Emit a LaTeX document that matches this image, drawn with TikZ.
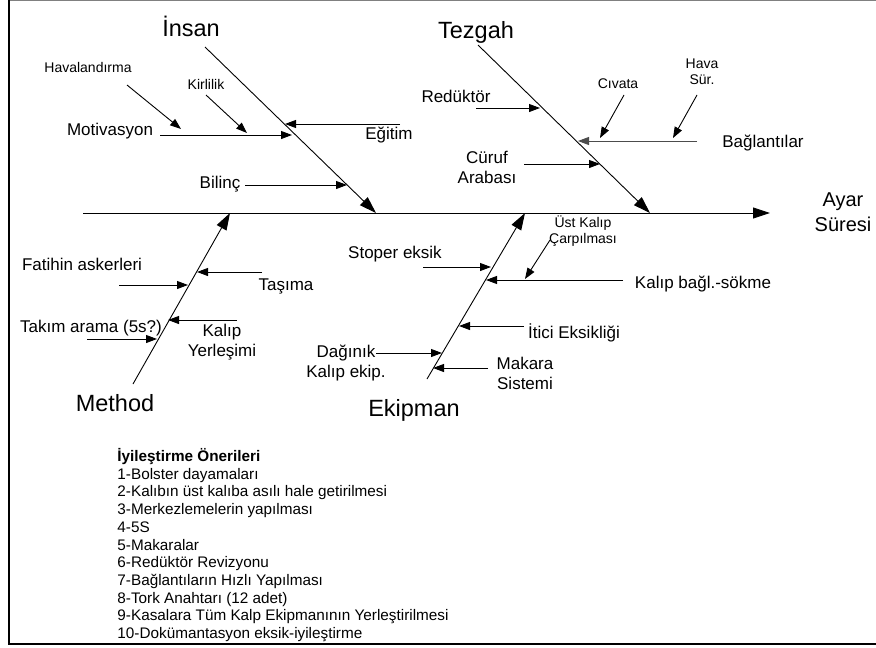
\documentclass[tikz,border=0pt]{standalone}
\usepackage{fontspec}
\setmainfont{Liberation Sans}
\usetikzlibrary{positioning,arrows.meta}

\begin{document}
\begin{tikzpicture}[x=1pt, y=-1pt, line width=0.9pt,
		head/.style={font=\fontsize{23.5}{28}\selectfont},
		lbl/.style={font=\fontsize{17}{20}\selectfont, align=center},
		sml/.style={font=\fontsize{14}{16}\selectfont, align=center},
		spine/.style={-{Triangle[length=17pt,width=11pt]}},
		bone/.style={-{Triangle[length=17pt,width=11pt]}},
		cause/.style={-{Triangle[length=11pt,width=8pt]}}]
	\useasboundingbox (0,0) rectangle (876,648);
	\draw[gray, line width=1pt] (9,0.5) -- (876,0.5);
	\draw[line width=1.5pt] (9,0) -- (9,644) -- (876,644);

	% spine and main bones
	\coordinate (spineS) at (83,213);
	\coordinate (spineE) at (770,213);
	\node[head, align=center, font=\fontsize{20}{25}\selectfont] (ayar) at (843,212) {Ayar\\Süresi};
	\draw[spine] (spineS) -- (spineE);

	\node[head] (insan) at (191,26) {İnsan};
	\node[head] (tezgah) at (476,32) {Tezgah};
	\node[head] (method) at (115,403) {Method};
	\node[head] (ekipman) at (414,410) {Ekipman};
	\coordinate (insanS) at (205,47);
	\coordinate (insanE) at (376,213);
	\coordinate (tezgahS) at (478,45);
	\coordinate (tezgahE) at (650,213);
	\coordinate (methodS) at (133,384);
	\coordinate (methodE) at (230,213);
	\coordinate (ekipS) at (427,379);
	\coordinate (ekipE) at (525,213);
	\draw[bone] (insanS) -- (insanE);
	\draw[bone] (tezgahS) -- (tezgahE);
	\draw[bone] (methodS) -- (methodE);
	\draw[bone] (ekipS) -- (ekipE);

	% İnsan
	\node[lbl] (motiv) at (110,131) {Motivasyon};
	\node[lbl] (egitim) at (389,135) {Eğitim};
	\node[sml] (haval) at (88,67) {Havalandırma};
	\node[sml] (kirli) at (206,84) {Kirlilik};
	\node[lbl] (bilinc) at (220,184) {Bilinç};
	\coordinate (motivS) at (160,135);
	\coordinate (motivE) at (292,135);
	\coordinate (egitimS) at (400,124);
	\coordinate (egitimE) at (285,124);
	\coordinate (havalS) at (127,85);
	\coordinate (havalE) at (181,129);
	\coordinate (kirliS) at (206,95);
	\coordinate (kirliE) at (247,133);
	\coordinate (bilincS) at (245,185);
	\coordinate (bilincE) at (347,185);
	\draw[cause] (motivS) -- (motivE);
	\draw[cause] (egitimS) -- (egitimE);
	\draw[cause] (havalS) -- (havalE);
	\draw[cause] (kirliS) -- (kirliE);
	\draw[cause] (bilincS) -- (bilincE);

	% Tezgah
	\node[lbl] (redukt) at (456,96) {Redüktör};
	\node[sml] (civata) at (618,84) {Cıvata};
	\node[sml] (havasur) at (702,72) {Hava\\Sür.};
	\node[lbl] (baglan) at (763,143) {Bağlantılar};
	\node[lbl] (curuf) at (487,167) {Cüruf\\Arabası};
	\coordinate (reduktS) at (476,108);
	\coordinate (reduktE) at (540,108);
	\coordinate (baglanS) at (697,141);
	\coordinate (baglanE) at (578,141);
	\coordinate (civataS) at (624,95);
	\coordinate (civataE) at (600,138);
	\coordinate (havasurS) at (697,95);
	\coordinate (havasurE) at (673,138);
	\coordinate (curufS) at (524,164);
	\coordinate (curufE) at (600,164);
	\draw[cause] (reduktS) -- (reduktE);
	\draw[cause, black!70] (baglanS) -- (baglanE);
	\draw[cause] (civataS) -- (civataE);
	\draw[cause] (havasurS) -- (havasurE);
	\draw[cause] (curufS) -- (curufE);

	% Method
	\node[lbl] (fatih) at (82,264) {Fatihin askerleri};
	\node[lbl] (tasima) at (286,286) {Taşıma};
	\node[lbl] (takim) at (91,328) {Takım arama (5s?)};
	\node[lbl] (kyer) at (222,342) {Kalıp\\Yerleşimi};
	\coordinate (fatihS) at (119,285);
	\coordinate (fatihE) at (188,285);
	\coordinate (tasimaS) at (262,272);
	\coordinate (tasimaE) at (197,272);
	\coordinate (takimS) at (87,339);
	\coordinate (takimE) at (157,339);
	\coordinate (kyerS) at (237,320);
	\coordinate (kyerE) at (168,320);
	\draw[cause] (fatihS) -- (fatihE);
	\draw[cause] (tasimaS) -- (tasimaE);
	\draw[cause] (takimS) -- (takimE);
	\draw[cause] (kyerS) -- (kyerE);

	% Ekipman
	\node[sml] (ustk) at (583,231) {Üst Kalıp\\Çarpılması};
	\node[lbl] (stoper) at (395,254) {Stoper eksik};
	\node[lbl] (ksokme) at (703,284) {Kalıp bağl.-sökme};
	\node[lbl] (itici) at (574,333) {İtici Eksikliği};
	\node[lbl] (daginik) at (346,363) {Dağınık\\Kalıp ekip.};
	\node[lbl] (makara) at (525,373) {Makara\\Sistemi};
	\coordinate (ustkS) at (550,240);
	\coordinate (ustkE) at (525,279);
	\coordinate (stoperS) at (423,267);
	\coordinate (stoperE) at (491,267);
	\coordinate (ksokmeS) at (623,280);
	\coordinate (ksokmeE) at (486,280);
	\coordinate (iticiS) at (524,326);
	\coordinate (iticiE) at (459,326);
	\coordinate (daginikS) at (376,353);
	\coordinate (daginikE) at (442,353);
	\coordinate (makaraS) at (488,368);
	\coordinate (makaraE) at (433,368);
	\draw[cause] (ustkS) -- (ustkE);
	\draw[cause] (stoperS) -- (stoperE);
	\draw[cause] (ksokmeS) -- (ksokmeE);
	\draw[cause] (iticiS) -- (iticiE);
	\draw[cause] (daginikS) -- (daginikE);
	\draw[cause] (makaraS) -- (makaraE);

	\node[anchor=north west, inner sep=0pt, align=left, font=\fontsize{15.3}{17.7}\selectfont] (oneri) at (117,448) {\textbf{İyileştirme Önerileri}\\
		1-Bolster dayamaları\\
		2-Kalıbın üst kalıba asılı hale getirilmesi\\
		3-Merkezlemelerin yapılması\\
		4-5S\\
		5-Makaralar\\
		6-Redüktör Revizyonu\\
		7-Bağlantıların Hızlı Yapılması\\
		8-Tork Anahtarı (12 adet)\\
		9-Kasalara Tüm Kalp Ekipmanının Yerleştirilmesi\\
		10-Dokümantasyon eksik-iyileştirme};
\end{tikzpicture}
\end{document}
